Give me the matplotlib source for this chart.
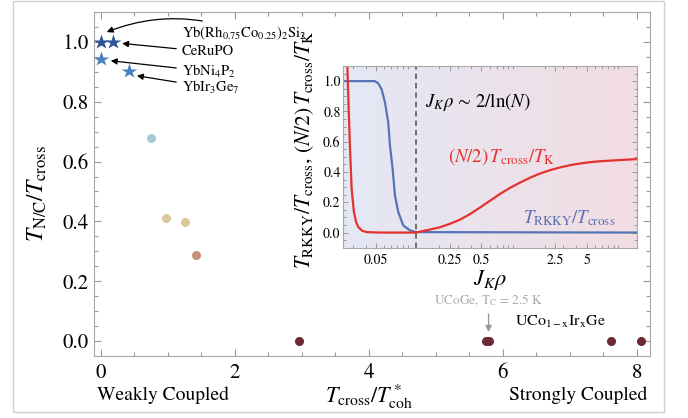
import matplotlib
matplotlib.use("Agg")
import numpy as np
import matplotlib.pyplot as plt
from matplotlib.colors import LinearSegmentedColormap
from matplotlib.patches import Rectangle
from matplotlib.ticker import MultipleLocator, FixedLocator, FixedFormatter, LogLocator, NullFormatter

plt.rcParams['font.family'] = 'STIXGeneral'
plt.rcParams['mathtext.fontset'] = 'stix'

# main panel data
star_x = [0.01, 0.18, 0.01, 0.42]
star_y = [1.0, 1.0, 0.942, 0.902]
star_colors = ['#2f5596', '#2f5596', '#4a80bd', '#4a80bd']
star_names = ['Yb(Rh$_{0.75}$Co$_{0.25}$)$_2$Si$_2$', 'CeRuPO', 'YbNi$_4$P$_2$', 'YbIr$_3$Ge$_7$']

circ_x = [0.75, 0.97, 1.26, 1.42, 2.96, 5.75, 5.80, 7.62, 8.07]
circ_y = [0.679, 0.411, 0.399, 0.286, 0.0, 0.0, 0.0, 0.0, 0.0]
circ_colors = ['#a8cad8', '#dcc89e', '#dcc59b', '#c49078',
               '#6d2833', '#6d2833', '#6d2833', '#6d2833', '#6d2833']

# inset curves
blue_jk = [0.0245, 0.0489, 0.0526, 0.0566, 0.0609, 0.0654, 0.0679, 0.0720,
           0.0757, 0.0814, 0.0908, 0.1051, 0.1217, 15.0]
blue_val = [1.0, 1.0, 0.985, 0.946, 0.859, 0.727, 0.574, 0.42,
            0.245, 0.135, 0.047, 0.014, 0.003, 0.0]

red_jk = [0.0267, 0.0273, 0.0283, 0.0294, 0.0309, 0.0324, 0.0340, 0.0370, 0.0408,
          0.055, 0.085, 0.1199, 0.1308, 0.1628, 0.2025, 0.2520, 0.3134, 0.3901,
          0.4855, 0.6040, 0.7516, 0.9352, 1.164, 1.448, 1.801, 2.242, 2.790,
          3.471, 4.319, 5.374, 6.686, 9.279, 14.91]
red_val = [1.12, 0.90, 0.574, 0.288, 0.135, 0.07, 0.036, 0.012, 0.003,
           0.0, 0.0, 0.0, 0.006, 0.02, 0.035, 0.058, 0.085, 0.122,
           0.165, 0.21, 0.255, 0.295, 0.33, 0.362, 0.39, 0.412, 0.43,
           0.445, 0.456, 0.465, 0.471, 0.477, 0.485]

inset_xticks = [0.05, 0.25, 0.5, 2.5, 5]
inset_xlabels = ['0.05', '0.25', '0.5', '2.5', '5']
jk_cross = 0.12

spine_c = '#a8a8a8'
tick_c = '#999999'

fig = plt.figure(figsize=(6.88, 4.18), dpi=100)
fig.patches.append(Rectangle((0.019, 0.0144), 0.946, 0.983, transform=fig.transFigure,
                             fill=False, edgecolor='#d0d0d0', lw=1.0))

ax = fig.add_axes([0.1366, 0.1483, 0.8082, 0.8230])
for i in range(4):
    ax.plot(star_x[i], star_y[i], marker='*', ms=11.5, color=star_colors[i], mec='none', zorder=3)
for i in range(len(circ_x)):
    ax.plot(circ_x[i], circ_y[i], marker='o', ms=6.5, color=circ_colors[i], mec='none', zorder=3)

ax.set_xlim(-0.1, 8.2)
ax.set_ylim(-0.05, 1.1)
ax.xaxis.set_major_locator(MultipleLocator(2))
ax.xaxis.set_minor_locator(MultipleLocator(0.5))
ax.yaxis.set_major_locator(MultipleLocator(0.2))
ax.yaxis.set_minor_locator(MultipleLocator(0.05))
ax.yaxis.set_major_formatter(matplotlib.ticker.FormatStrFormatter('%.1f'))
ax.tick_params(which='both', direction='in', top=True, right=True, color=tick_c,
               labelsize=15, width=0.8)
ax.tick_params(which='major', length=5)
ax.tick_params(which='minor', length=3)
ax.tick_params(axis='x', pad=5)
ax.tick_params(axis='y', pad=4)
for s in ax.spines.values():
    s.set_color(spine_c)

# labels on the stars
tips = [(0.09, 1.033), (0.32, 0.995), (0.15, 0.937), (0.54, 0.887)]
label_y = [1.03, 0.967, 0.901, 0.847]
for i in range(4):
    cs = 'arc3,rad=0.2' if i == 0 else 'arc3,rad=0'
    ax.annotate(star_names[i], xy=tips[i], xytext=(1.21, label_y[i]),
                ha='left', va='center', fontsize=10.5,
                arrowprops=dict(arrowstyle='-|>', color='k', lw=0.9,
                                shrinkA=2, shrinkB=0, mutation_scale=9,
                                connectionstyle=cs))

ax.annotate('UCoGe, T$_\\mathrm{C}$ = 2.5 K', xy=(5.79, 0.03), xytext=(5.79, 0.135),
            ha='center', va='center', fontsize=9.5, color='#aaaaaa',
            arrowprops=dict(arrowstyle='-|>', color='#999999', lw=1.0,
                            shrinkA=2, shrinkB=0, mutation_scale=9))
ax.text(6.18, 0.065, 'UCo$_{\\mathrm{1-x}}$Ir$_\\mathrm{x}$Ge', ha='left', va='center', fontsize=11.5)

fig.text(37 / 688, (418 - 194) / 418, '$T_\\mathrm{N/C}/T_\\mathrm{cross}$', rotation=90,
         ha='center', va='center', fontsize=17)
fig.text(369 / 688, (418 - 397) / 418, '$T_\\mathrm{cross}/T^*_\\mathrm{coh}$',
         ha='center', va='center', fontsize=16)
fig.text(97 / 688, (418 - 395) / 418, 'Weakly Coupled', ha='left', va='center', fontsize=14)
fig.text(647 / 688, (418 - 395) / 418, 'Strongly Coupled', ha='right', va='center', fontsize=14)

# inset
ax_in = fig.add_axes([0.499, 0.4074, 0.4264, 0.4347])
bg = LinearSegmentedColormap.from_list('bg', ['#e4e8f5', '#f2dde2'])
ax_in.imshow(np.linspace(0, 1, 256).reshape(1, -1), extent=[0, 1, 0, 1],
             transform=ax_in.transAxes, aspect='auto', cmap=bg, zorder=0)
ax_in.set_xscale('log')
ax_in.plot(blue_jk, blue_val, color='#5574b4', lw=1.6, zorder=2)
ax_in.plot(red_jk, red_val, color='#e5312f', lw=1.6, zorder=2)
ax_in.axvline(jk_cross, color='#666666', lw=1.3, ls=(0, (3, 2.2)), zorder=1)
ax_in.set_xlim(0.0245, 14.9)
ax_in.set_ylim(-0.1, 1.1)
ax_in.xaxis.set_major_locator(FixedLocator(inset_xticks))
ax_in.xaxis.set_major_formatter(FixedFormatter(inset_xlabels))
ax_in.xaxis.set_minor_locator(LogLocator(base=10, subs=np.arange(1, 10)))
ax_in.xaxis.set_minor_formatter(NullFormatter())
ax_in.yaxis.set_major_locator(MultipleLocator(0.2))
ax_in.yaxis.set_minor_locator(MultipleLocator(0.05))
ax_in.yaxis.set_major_formatter(matplotlib.ticker.FormatStrFormatter('%.1f'))
ax_in.tick_params(which='both', direction='in', top=True, right=True, color=tick_c,
                  labelsize=10, width=0.7)
ax_in.tick_params(which='major', length=3.5)
ax_in.tick_params(which='minor', length=2)
ax_in.tick_params(axis='x', pad=4)
ax_in.tick_params(axis='y', pad=2)
for s in ax_in.spines.values():
    s.set_color(spine_c)

ax_in.text(0.146, 0.828, '$J_K\\rho\\,\\sim\\,2/\\ln(N)$', ha='left', va='baseline', fontsize=13.5)
ax_in.text(0.241, 0.466, '$(N/2)\\,T_\\mathrm{cross}/T_\\mathrm{K}$', ha='left', va='baseline',
           fontsize=13.5, color='#e5312f')
ax_in.text(1.243, 0.06, '$T_\\mathrm{RKKY}/T_\\mathrm{cross}$', ha='left', va='baseline',
           fontsize=13.5, color='#5a70b0')

fig.text(305 / 688, (418 - 150) / 418,
         '$T_\\mathrm{RKKY}/T_\\mathrm{cross}$, $(N/2)\\,T_\\mathrm{cross}/T_\\mathrm{K}$',
         rotation=90, ha='center', va='center', fontsize=15.5)
fig.text(490 / 688, (418 - 280) / 418, '$J_K\\rho$', ha='center', va='center', fontsize=16)

fig.savefig('out.png', dpi=100)
